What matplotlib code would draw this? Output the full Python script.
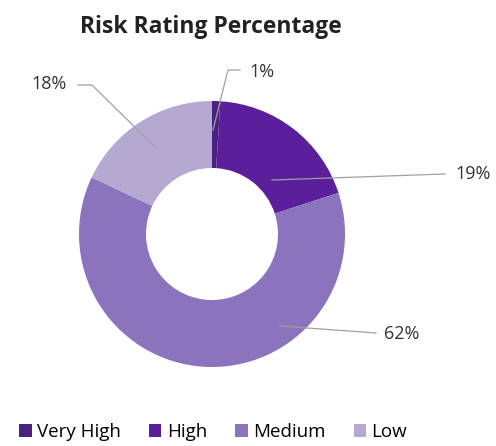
import matplotlib
matplotlib.use("Agg")
import matplotlib.pyplot as plt
from matplotlib.patches import Patch

categories = ["Very High", "High", "Medium", "Low"]
values = [1, 19, 62, 18]
colors = ["#4a2180", "#5b1f9c", "#8b73bd", "#b5a9d2"]

# label positions (pixel coords, y from top) and leader line paths
label_pos = [(262, 72), (473, 174), (402, 334), (49, 84)]
leaders = [
    [(213, 130), (228, 70), (240, 70)],
    [(272, 180), (445, 174)],
    [(280, 326), (376, 333)],
    [(155, 147), (92, 85), (78, 85)],
]

W, H = 496, 446
fig = plt.figure(figsize=(W / 100, H / 100), dpi=100)
ax = fig.add_axes([0, 0, 1, 1])

ax.pie(values, colors=colors, startangle=90, counterclock=False,
       center=(212, H - 234), radius=133,
       wedgeprops=dict(width=67, edgecolor="none"))

ax.set_xlim(0, W)
ax.set_ylim(0, H)
ax.set_aspect("equal")
ax.axis("off")

for (lx, ly), path in zip(label_pos, leaders):
    xs = [p[0] for p in path]
    ys = [H - p[1] for p in path]
    ax.plot(xs, ys, color="#a0a0a0", lw=0.9)

for v, (lx, ly) in zip(values, label_pos):
    ax.text(lx, H - ly, f"{v}%", ha="center", va="center",
            fontsize=13, family="Open Sans", color="#333333")

ax.text(211, H - 27, "Risk Rating Percentage", ha="center", va="center",
        fontsize=16.5, fontweight="bold", family="Open Sans", color="#222222")

handles = [Patch(facecolor=c, edgecolor="none") for c in colors]
fig.legend(handles, categories, loc="center", bbox_to_anchor=(0.43, 1 - 432 / H),
           ncol=4, frameon=False, prop={"family": "Open Sans", "size": 13.5},
           handlelength=0.65, handleheight=0.65, handletextpad=0.3, columnspacing=1.5)

fig.savefig("out.png", dpi=100)
